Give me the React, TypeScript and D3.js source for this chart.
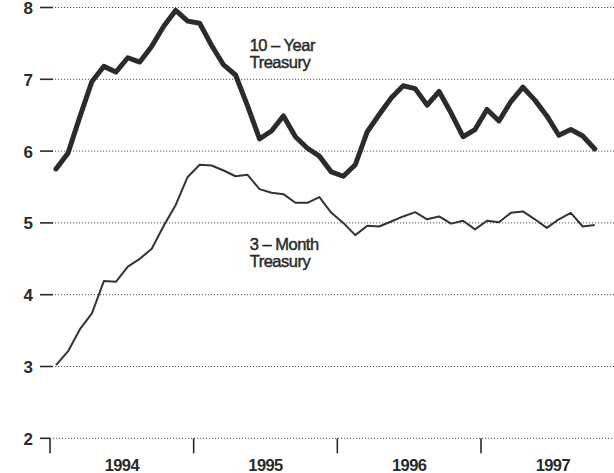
import React from "react";
import * as d3 from "d3";

const startYear = 1994;
const tenYear = [
  5.75, 5.97, 6.48, 6.97, 7.18, 7.10, 7.30, 7.24, 7.46, 7.74, 7.96, 7.81,
  7.78, 7.47, 7.20, 7.06, 6.63, 6.17, 6.28, 6.49, 6.20, 6.04, 5.93, 5.71,
  5.65, 5.81, 6.27, 6.51, 6.74, 6.91, 6.87, 6.64, 6.83, 6.53, 6.20, 6.30,
  6.58, 6.42, 6.69, 6.89, 6.71, 6.49, 6.22, 6.30, 6.21, 6.03,
];
const threeMonth = [
  3.02, 3.21, 3.52, 3.74, 4.19, 4.18, 4.39, 4.50, 4.64, 4.96, 5.25, 5.64,
  5.81, 5.80, 5.73, 5.65, 5.67, 5.47, 5.42, 5.40, 5.28, 5.28, 5.36, 5.14,
  5.00, 4.83, 4.96, 4.95, 5.02, 5.09, 5.15, 5.05, 5.09, 4.99, 5.03, 4.91,
  5.03, 5.01, 5.14, 5.16, 5.05, 4.93, 5.05, 5.14, 4.95, 4.97,
];
const yTicks = [2, 3, 4, 5, 6, 7, 8];
const yearTicks = [1994, 1995, 1996, 1997];
const yearLabels = ["1994", "1995", "1996", "1997"];
const seriesLabels = [
  { lines: ["10 – Year", "Treasury"], x: 1995.39, y: 7.4 },
  { lines: ["3 – Month", "Treasury"], x: 1995.39, y: 4.62 },
];

const W = 614;
const H = 473;
const FONT = "'Liberation Sans', Arial, Helvetica, sans-serif";
const INK = "#2a2a2a";

export default function App() {
  const x = d3.scaleLinear().domain([1994, 1997]).range([50, 481]);
  const y = d3.scaleLinear().domain([2, 8]).range([438.3, 7.5]);
  const date = (i: number) => startYear + (i + 0.5) / 12;
  const line = d3
    .line<number>()
    .x((_, i) => x(date(i)))
    .y((d) => y(d))
    .curve(d3.curveLinear);

  const x0 = x(1994);
  return (
    <svg
      width={W}
      height={H}
      style={{ position: "absolute", left: 0, top: 0, background: "#fff" }}
      fontFamily={FONT}
    >
      <rect width={W} height={H} fill="#fff" />
      {yTicks.map((t) => (
        <g key={t}>
          <line
            x1={t === 2 ? x0 : 52}
            x2={W}
            y1={y(t)}
            y2={y(t)}
            stroke="#555"
            strokeWidth={1}
            strokeDasharray="1.2,1.8"
          />
          <line x1={40} x2={t === 2 ? x0 : 53} y1={y(t)} y2={y(t)} stroke={INK} strokeWidth={1.6} />
          <text
            x={33}
            y={y(t)}
            dy="0.38em"
            textAnchor="end"
            fontSize={17}
            fontWeight="bold"
            fill={INK}
          >
            {t}
          </text>
        </g>
      ))}
      {yearTicks.map((yr) => (
        <line
          key={yr}
          x1={x(yr)}
          x2={x(yr)}
          y1={y(2)}
          y2={y(2) + 15}
          stroke={INK}
          strokeWidth={1.6}
        />
      ))}
      {yearTicks.map((yr, i) => (
        <text
          key={yr}
          x={x(yr + 0.5)}
          y={470.5}
          textAnchor="middle"
          fontSize={16.5}
          fontWeight="bold"
          letterSpacing={-0.6}
          fill={INK}
        >
          {yearLabels[i]}
        </text>
      ))}
      <path d={line(threeMonth) || ""} fill="none" stroke="#333" strokeWidth={2} strokeLinejoin="round" />
      <path d={line(tenYear) || ""} fill="none" stroke="#2b2b2b" strokeWidth={5} strokeLinejoin="round" strokeLinecap="round" />
      {seriesLabels.map((s, k) => (
        <text
          key={k}
          x={x(s.x)}
          y={y(s.y)}
          fontSize={16.5}
          fill={INK}
          letterSpacing={-0.5}
          stroke={INK}
          strokeWidth={0.45}
        >
          {s.lines.map((l, j) => (
            <tspan key={j} x={x(s.x)} dy={j === 0 ? 0 : 17}>
              {l}
            </tspan>
          ))}
        </text>
      ))}
    </svg>
  );
}
